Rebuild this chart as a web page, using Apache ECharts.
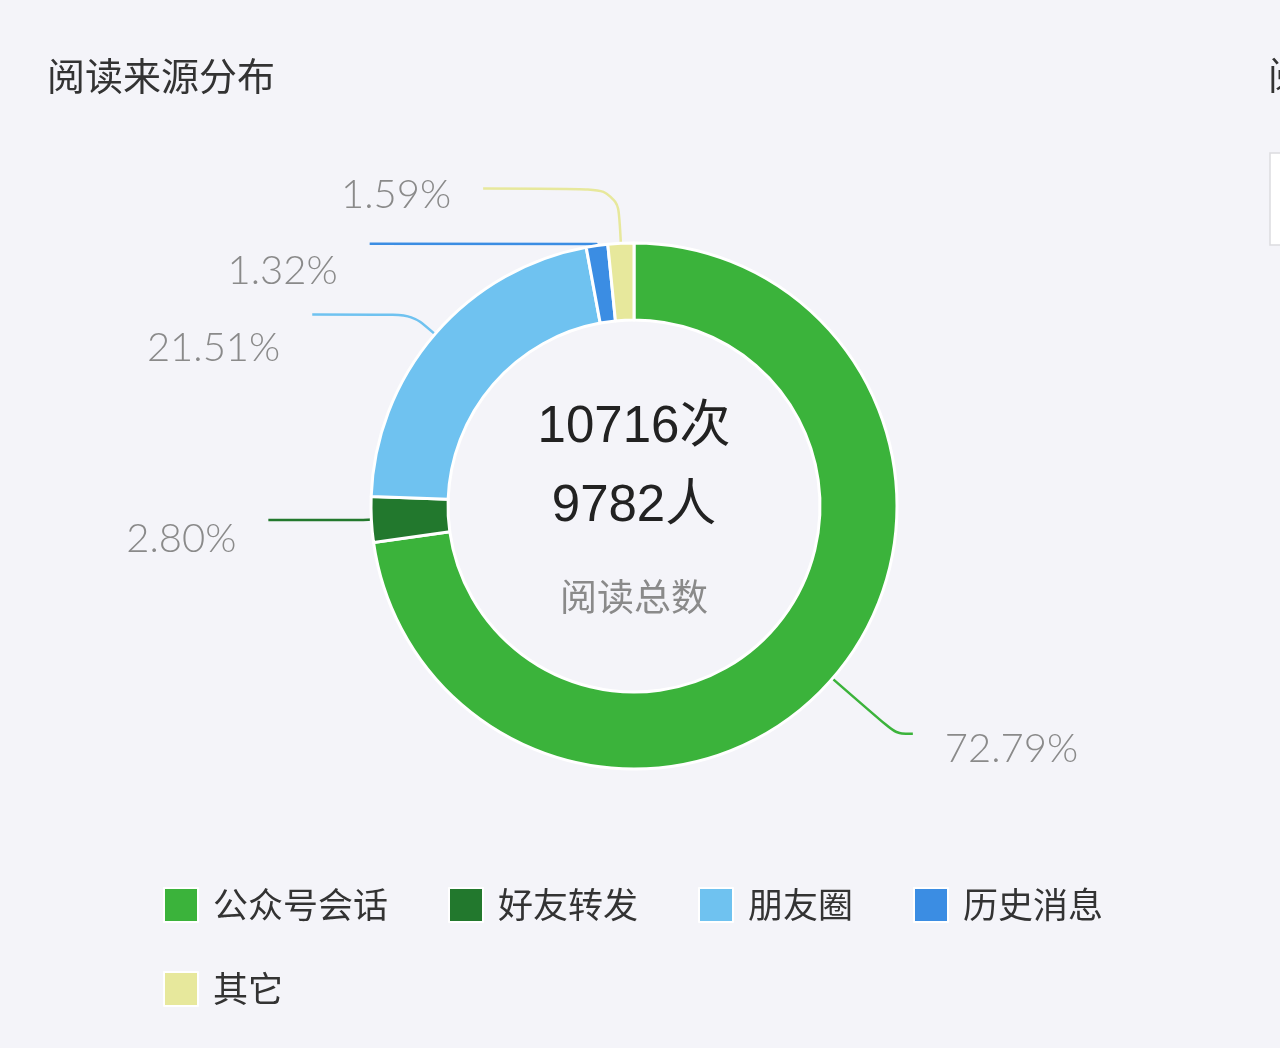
<!DOCTYPE html>
<html>
<head>
<meta charset="utf-8">
<title>阅读来源分布</title>
<script src="https://cdn.jsdelivr.net/npm/echarts@6/dist/echarts.min.js"></script>
<style>
  html, body { margin: 0; padding: 0; background: #f4f4f9; }
  #chart { width: 1280px; height: 1048px; }
</style>
</head>
<body>
<div id="chart"></div>
<script>
// 数据
const sourceNames = ['公众号会话', '好友转发', '朋友圈', '历史消息', '其它']
const sourceValues = [72.79, 2.80, 21.51, 1.32, 1.59]
const totalReads = 10716
const totalUsers = 9782

// 样式
const sliceColors = ['#3bb33b', '#22782d', '#6fc2f0', '#3b8de3', '#e7e89c']
const lineLen = [84, 10, 30, 2, 55]
const lineLen2 = [17, 93, 100, 227, 135]
// 文字相对引导线末端向下偏移 = 行高 / 2
const labelLineHeight = [30, 38, 68, 54, 14]

const cjk = '"Noto Sans CJK SC", sans-serif'
const num = '"Liberation Sans", "Noto Sans CJK SC", sans-serif'

const chart = echarts.init(document.getElementById('chart'))

const pieData = sourceNames.map((name, i) => ({
  name: name,
  value: sourceValues[i],
  itemStyle: { color: sliceColors[i] },
  label: { lineHeight: labelLineHeight[i] },
  labelLine: {
    length: lineLen[i],
    length2: lineLen2[i],
    lineStyle: { color: sliceColors[i] }
  }
}))

const legendText = { fontFamily: cjk, fontSize: 35, color: '#333', padding: [0, 0, 0, 10] }

const option = {
  backgroundColor: '#f4f4f9',
  animation: false,
  title: {
    text: '阅读来源分布',
    left: 42,
    top: 52,
    textStyle: { fontFamily: cjk, fontSize: 38, fontWeight: 'normal', color: '#333' }
  },
  legend: [{
    data: sourceNames.slice(0, 4),
    left: 158,
    top: 882,
    icon: 'rect',
    itemWidth: 34,
    itemHeight: 34,
    itemGap: 60,
    textStyle: legendText
  }, {
    data: sourceNames.slice(4),
    left: 158,
    top: 966,
    icon: 'rect',
    itemWidth: 34,
    itemHeight: 34,
    textStyle: legendText
  }],
  graphic: [
    {
      type: 'text', x: 634, y: 428,
      style: {
        text: totalReads + '次', fontFamily: num, fontSize: 51, fill: '#222',
        align: 'center', verticalAlign: 'middle', textAlign: 'center', textVerticalAlign: 'middle'
      }
    },
    {
      type: 'text', x: 634, y: 507,
      style: {
        text: totalUsers + '人', fontFamily: num, fontSize: 51, fill: '#222',
        align: 'center', verticalAlign: 'middle', textAlign: 'center', textVerticalAlign: 'middle'
      }
    },
    {
      type: 'text', x: 634, y: 597,
      style: {
        text: '阅读总数', fontFamily: cjk, fontSize: 37, fill: '#8a8a8a',
        align: 'center', verticalAlign: 'middle', textAlign: 'center', textVerticalAlign: 'middle'
      }
    },
    // 右侧被截断的下一张卡片
    {
      type: 'text', x: 1268, y: 75,
      style: {
        text: '阅读', fontFamily: cjk, fontSize: 38, fill: '#333',
        align: 'left', verticalAlign: 'middle', textAlign: 'left', textVerticalAlign: 'middle'
      }
    },
    {
      type: 'rect', shape: { x: 1270, y: 153, width: 60, height: 92 },
      style: { fill: '#fff', stroke: '#dcdce0', lineWidth: 1.5 }
    }
  ],
  series: [{
    type: 'pie',
    center: [634, 506],
    radius: [186, 263],
    startAngle: 90,
    clockwise: true,
    avoidLabelOverlap: false,
    labelLayout: { hideOverlap: false },
    itemStyle: { borderColor: '#fff', borderWidth: 3 },
    label: {
      show: true,
      position: 'outside',
      // 首行留空，把数字压到引导线下方
      formatter: (p) => '\n' + p.value.toFixed(2) + '%',
      fontFamily: '"Lato", "Liberation Sans", sans-serif',
      fontWeight: 300,
      fontSize: 40,
      color: '#8a8a8a',
      distanceToLabelLine: 32
    },
    labelLine: {
      show: true,
      smooth: 0.3,
      lineStyle: { width: 2.5 }
    },
    emphasis: { disabled: true },
    data: pieData
  }]
}

chart.setOption(option)
</script>
</body>
</html>
